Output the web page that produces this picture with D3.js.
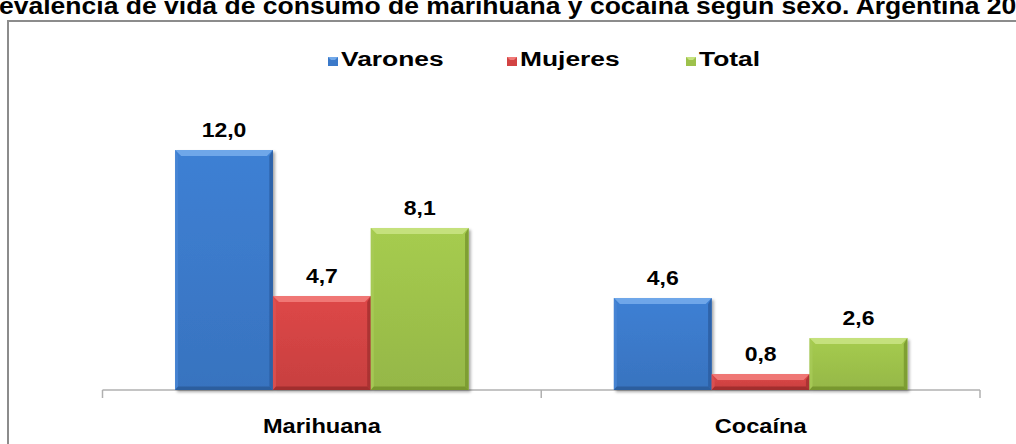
<!DOCTYPE html>
<html><head><meta charset="utf-8">
<script src="https://cdn.jsdelivr.net/npm/d3@7"></script>
<style>
html,body{margin:0;padding:0;background:#fff;overflow:hidden}
text{font-family:"Liberation Sans",Arial,sans-serif;font-weight:bold;fill:#000}
</style></head>
<body>
<svg id="c" width="1016" height="444"></svg>
<script>
const titleText = "Prevalencia de vida de consumo de marihuana y cocaína según sexo. Argentina 2008";
const categories = ["Marihuana", "Cocaína"];
const seriesNames = ["Varones", "Mujeres", "Total"];
const varones = [12.0, 4.6];
const mujeres = [4.7, 0.8];
const total = [8.1, 2.6];
const seriesValues = [varones, mujeres, total];
const yMax = 14;

const colors = {
  Varones: {face:"#3b79c9", top:"#72a9ea", left:"#4886d4", right:"#2b5ea2", bottom:"#2a5a98"},
  Mujeres: {face:"#d24343", top:"#f07a78", left:"#dc5252", right:"#a63030", bottom:"#9a2b2b"},
  Total:   {face:"#9dc14b", top:"#c6e27f", left:"#a8cb58", right:"#79992f", bottom:"#73922c"}
};

const svg = d3.select("#c");
const defs = svg.append("defs");
const f = defs.append("filter").attr("id","sh").attr("x","-20%").attr("y","-20%").attr("width","140%").attr("height","140%");
f.append("feDropShadow").attr("dx",2).attr("dy",2).attr("stdDeviation",1.8).attr("flood-color","#000").attr("flood-opacity",0.35);
Object.keys(colors).forEach(k=>{
  const g = defs.append("linearGradient").attr("id","g"+k).attr("x1",0).attr("y1",0).attr("x2",0).attr("y2",1);
  g.append("stop").attr("offset","0%").attr("stop-color",d3.color(colors[k].face).brighter(0.15));
  g.append("stop").attr("offset","100%").attr("stop-color",d3.color(colors[k].face).darker(0.15));
});

// stretched text helper (reference text is horizontally widened)
function stext(parent, x, y, str, size, sx, anchor){
  return parent.append("text").attr("transform",`translate(${x},${y}) scale(${sx},1)`)
    .attr("font-size",size).attr("text-anchor",anchor||"start").text(str);
}

// frame
svg.append("rect").attr("x",8).attr("y",21).attr("width",1100).attr("height",500)
  .attr("fill","none").attr("stroke","#8c8c8c").attr("stroke-width",2);

// title (cropped at left/right/top as in reference)
const title = svg.append("text").attr("font-size",24).text(titleText);
const tn = title.node();
const pre = tn.getSubStringLength(0,2);
const vis = tn.getSubStringLength(2, titleText.indexOf("Argentina 20")+12-2);
const tsx = 1018/vis;
title.attr("transform",`translate(${-pre*tsx-1},14) scale(${tsx},1)`);

const x0 = d3.scaleBand().domain(categories).range([102.5, 980]).padding(0);
const bw = x0.bandwidth();
const x1 = d3.scaleBand().domain(seriesNames).range([bw*0.1655, bw*0.8345]).padding(0);
const y = d3.scaleLinear().domain([0, yMax]).range([390, 110]);

// axis
const ax = svg.append("g").attr("stroke","#b0b0b0").attr("stroke-width",1.5);
ax.append("line").attr("x1",x0.range()[0]).attr("x2",x0.range()[1]).attr("y1",y(0)).attr("y2",y(0));
const tickXs = categories.map(c=>x0(c)).concat([x0(categories[categories.length-1])+bw]);
ax.selectAll("line.t").data(tickXs).join("line").attr("class","t")
  .attr("x1",d=>d).attr("x2",d=>d).attr("y1",y(0)).attr("y2",y(0)+8);

// bars
const data = [];
categories.forEach((c,i)=>seriesNames.forEach((s,j)=>data.push({c,s,v:seriesValues[j][i]})));
const bars = svg.append("g");
const labels = svg.append("g");
data.forEach(d=>{
  const xL = x0(d.c)+x1(d.s), w = x1.bandwidth(), yT = y(d.v), yB = y(0), h = yB-yT;
  const b = Math.min(6, h/2.5);
  const col = colors[d.s];
  const g = bars.append("g");
  g.append("rect").attr("x",xL).attr("y",yT).attr("width",w).attr("height",h)
    .attr("fill",`url(#g${d.s})`).attr("filter","url(#sh)");
  const xR = xL+w;
  g.append("polygon").attr("points",`${xL},${yT} ${xR},${yT} ${xR-b},${yT+b} ${xL+b},${yT+b}`).attr("fill",col.top).attr("opacity",0.95);
  g.append("polygon").attr("points",`${xL},${yT} ${xL+b*0.5},${yT+b} ${xL+b*0.5},${yB-b*0.6} ${xL},${yB}`).attr("fill",col.left).attr("opacity",0.8);
  g.append("polygon").attr("points",`${xR},${yT} ${xR},${yB} ${xR-b*0.6},${yB-b*0.6} ${xR-b*0.6},${yT+b}`).attr("fill",col.right).attr("opacity",0.85);
  g.append("polygon").attr("points",`${xL},${yB} ${xR},${yB} ${xR-b*0.6},${yB-b*0.6} ${xL+b*0.5},${yB-b*0.6}`).attr("fill",col.bottom).attr("opacity",0.85);
  stext(labels, xL+w/2, yT-13, d3.format(".1f")(d.v).replace(".",","), 20, 1.15, "middle");
});

// category labels
const cl = svg.append("g");
categories.forEach(c=>stext(cl, x0(c)+bw/2, 433, c, 20, 1.18, "middle"));

// legend
const legendX = [328, 507, 686];
const lg = svg.append("g");
seriesNames.forEach((s,i)=>{
  const col = colors[s];
  lg.append("rect").attr("x",legendX[i]).attr("y",57).attr("width",10).attr("height",9).attr("fill",col.face);
  lg.append("polygon").attr("points",`${legendX[i]},57 ${legendX[i]+10},57 ${legendX[i]+7},60 ${legendX[i]+3},60`).attr("fill",col.top);
  stext(lg, legendX[i]+13, 66, s, 20, 1.32);
});
</script>
</body></html>
